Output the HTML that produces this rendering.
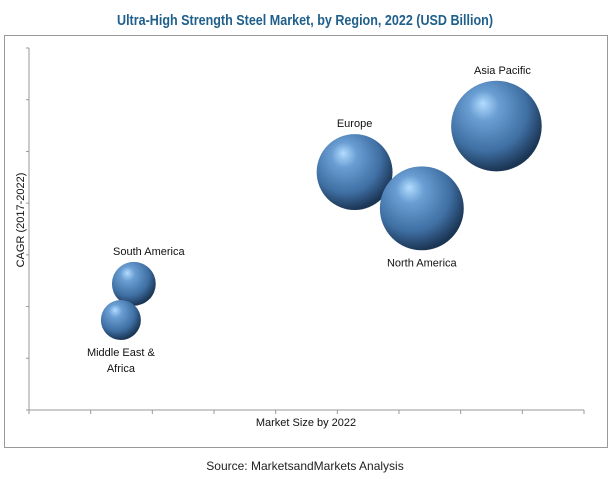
<!DOCTYPE html>
<html><head><meta charset="utf-8">
<style>
html,body{margin:0;padding:0;background:#fff;width:609px;height:479px;overflow:hidden;font-family:"Liberation Sans",sans-serif}
</style></head><body>
<svg width="609" height="479" viewBox="0 0 609 479">
<defs>
<radialGradient id="g" cx="0.4" cy="0.35" r="0.65" fx="0.35" fy="0.25">
<stop offset="0" stop-color="#b3dcff"/>
<stop offset="0.25" stop-color="#6b9fd4"/>
<stop offset="0.7" stop-color="#3f6fa3"/>
<stop offset="1" stop-color="#1b3554"/>
</radialGradient>
</defs>
<text x="305" y="25" text-anchor="middle" font-family="Liberation Sans Narrow, Liberation Sans, sans-serif" font-weight="bold" font-size="15" fill="#1f5f8b" textLength="376" lengthAdjust="spacingAndGlyphs">Ultra-High Strength Steel Market, by Region, 2022 (USD Billion)</text>
<rect x="4.5" y="35.5" width="603" height="412" fill="none" stroke="#999"/>
<g id="axes"></g>
<g id="bubbles"></g>
<text x="306" y="426" text-anchor="middle" font-size="11" fill="#111">Market Size by 2022</text>
<text transform="translate(24,220) rotate(-90)" text-anchor="middle" font-size="11" fill="#111">CAGR (2017-2022)</text>
<text x="305" y="470" text-anchor="middle" font-size="12" fill="#222">Source:  MarketsandMarkets Analysis</text>
</svg>
<script>
const regions=["Asia Pacific","Europe","North America","South America","Middle East & Africa"];
const marketSize=[7.58,5.28,6.37,1.70,1.49];
const cagr=[5.49,4.60,3.90,2.44,1.74];
const bubbleSize=[20.5,14.4,17.6,4.8,4.0];
const labelPos=["above","above","below","above","below"];
const xTicks=[0,1,2,3,4,5,6,7,8,9];
const yTicks=[0,1,2,3,4,5,6,7];
const X0=29,X1=584,Y0=410,Y1=48;
const xs=v=>X0+(X1-X0)*v/9;
const ys=v=>Y0-(Y0-Y1)*v/7;
const rs=s=>10*Math.sqrt(s);
const NS="http://www.w3.org/2000/svg";
const ax=document.getElementById('axes');
function mk(t,a,p){const e=document.createElementNS(NS,t);for(const k in a)e.setAttribute(k,a[k]);p.appendChild(e);return e;}
const ya=mk('line',{x1:X0,y1:Y1,x2:X0,y2:Y0,stroke:'#999'},ax);


const xa=mk('line',{x1:X0,y1:Y0,x2:X1,y2:Y0,stroke:'#999'},ax);


xTicks.forEach(t=>{const l=mk('line',{x1:xs(t),y1:Y0,x2:xs(t),y2:Y0+4,stroke:'#999'},ax);

});
yTicks.forEach(t=>{const l=mk('line',{x1:X0-3,y1:ys(t),x2:X0,y2:ys(t),stroke:'#999'},ax);

});
const bg=document.getElementById('bubbles');
regions.forEach((n,i)=>{
const cx=xs(marketSize[i]),cy=ys(cagr[i]),r=rs(bubbleSize[i]);
const c=mk('circle',{cx:cx,cy:cy,r:r,fill:'url(#g)'},bg);


const lines=n==="Middle East & Africa"?["Middle East &","Africa"]:[n];
const above=labelPos[i]==="above";
lines.forEach((ln,j)=>{
const y=above?cy-r-7+(j-lines.length+1)*16:cy+r+16+j*16;
const t=mk('text',{x:cx+(i===3?15:(i===0?6:0)),y:y,'text-anchor':'middle','font-size':'11',fill:'#111'},bg);
t.textContent=ln;


});
});
</script>
</body></html>
